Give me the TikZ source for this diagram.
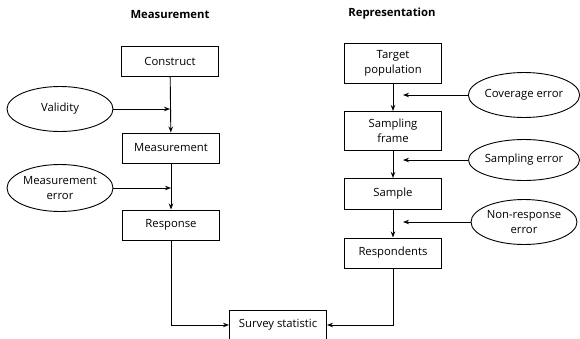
\documentclass[tikz,border=0pt]{standalone}
\usepackage{fontspec}
\setmainfont{Open Sans}
\usetikzlibrary{shapes.geometric}
\usetikzlibrary{arrows.meta}

\begin{document}
\begin{tikzpicture}[x=1pt,y=-1pt,font=\fontsize{11.3}{15}\selectfont,
  box/.style={draw,line width=1pt,minimum width=97,minimum height=30,inner sep=2pt,align=center},
  oval/.style={draw,ellipse,line width=0.9pt,minimum width=106,minimum height=45,inner sep=0pt,align=center},
  arr/.style={line width=0.9pt,-{Stealth[length=6pt,width=4.5pt]}}]
\useasboundingbox (0,0) rectangle (580,338);
% measurement side
\node (mtitle) at (170,15) {\bfseries Measurement};
\node (construct) [box] at (170,61) {Construct};
\node (measurement) [box] at (171,148) {Measurement};
\node (response) [box] at (171,225) {Response};
\node (validity) [oval] at (60,109) {Validity};
\node (merror) [oval,minimum height=47] at (60,188) {Measurement\\error};
\draw[arr] (construct) -- (measurement);
\draw[arr] (measurement) -- (response);
\draw[arr] (validity.east) -- (validity.east -| construct.south);
\draw[arr] (merror.east) -- (merror.east -| measurement.south);
% representation side
\node (rtitle) at (392,14) {\bfseries Representation};
\node (target) [box,minimum height=40] at (393,63) {Target\\population};
\node (frame) [box,minimum height=39] at (393,131) {Sampling\\frame};
\node (sample) [box,minimum height=31] at (393,194) {Sample};
\node (respondents) [box] at (393,253) {Respondents};
\node (coverage) [oval] at (524,95) {Coverage error};
\node (serror) [oval,minimum height=41] at (524,160) {Sampling error};
\node (nerror) [oval] at (524,222) {Non-response\\error};
\draw[arr] (target) -- (frame);
\draw[arr] (frame) -- (sample);
\draw[arr] (sample) -- (respondents);
\draw[arr,shorten >=10pt] (coverage.west) -- (coverage.west -| target.south);
\draw[arr,shorten >=10pt] (serror.west) -- (serror.west -| frame.south);
\draw[arr,shorten >=10pt] (nerror.west) -- (nerror.west -| sample.south);
% both meet here
\node (stat) [box] at (278,325) {Survey statistic};
\draw[arr] (response.south) |- (stat.west);
\draw[arr] (respondents.south) |- (stat.east);
\end{tikzpicture}
\end{document}
